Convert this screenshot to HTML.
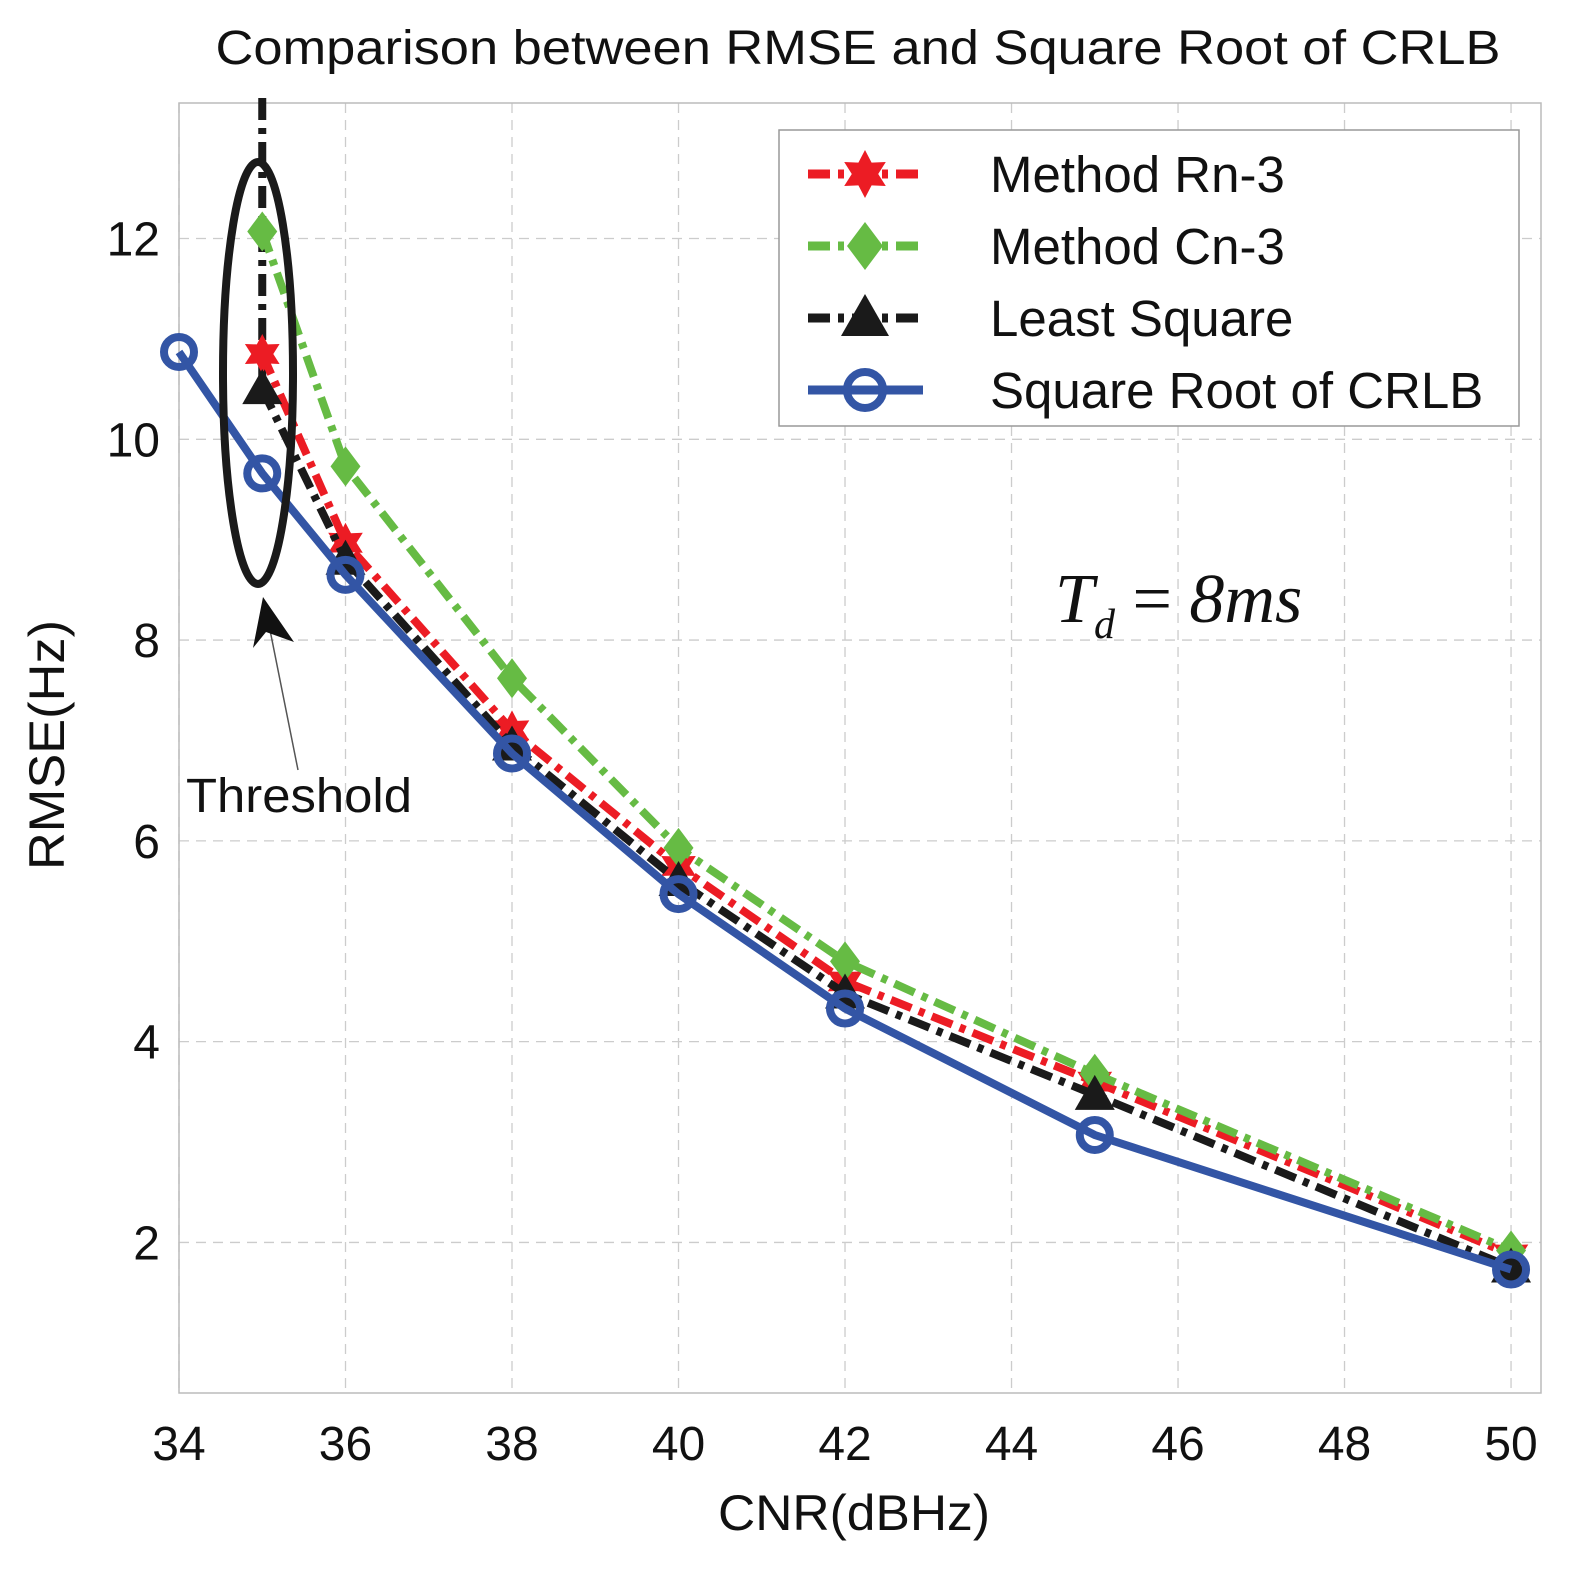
<!DOCTYPE html>
<html><head><meta charset="utf-8"><style>
body{margin:0;background:#fff}
svg{display:block;font-family:"Liberation Sans",sans-serif}
</style></head><body>
<svg id="chart" width="1596" height="1589" viewBox="0 0 1596 1589">
<rect width="1596" height="1589" fill="#fff"/>
<text x="858" y="64" font-size="48" text-anchor="middle" fill="#111" textLength="1285" lengthAdjust="spacingAndGlyphs">Comparison between RMSE and Square Root of CRLB</text>
<g id="grid"></g>
<rect x="179" y="103" width="1362" height="1290" fill="none" stroke="#bbb" stroke-width="1.5"/>
<g id="ticks"></g>
<g id="series"></g>
<ellipse cx="258" cy="373" rx="35" ry="211" fill="none" stroke="#1a1a1a" stroke-width="8"/>
<line x1="270" y1="630" x2="298" y2="770" stroke="#555" stroke-width="1.5"/>
<polygon points="263,597 253,648 266,632 294,642" fill="#111"/>
<text x="186" y="812" font-size="48" fill="#111" textLength="226" lengthAdjust="spacingAndGlyphs">Threshold</text>
<text x="1055" y="622" font-size="70" font-style="italic" font-family="Liberation Serif,serif" fill="#111">T<tspan font-size="42" dy="16">d</tspan><tspan dy="-16" font-style="normal"> = </tspan>8ms</text>
<text x="854" y="1530" font-size="50" text-anchor="middle" fill="#111" textLength="272" lengthAdjust="spacingAndGlyphs">CNR(dBHz)</text>
<text transform="translate(64,745) rotate(-90)" font-size="50" text-anchor="middle" fill="#111" textLength="250" lengthAdjust="spacingAndGlyphs">RMSE(Hz)</text>
<g id="legend">
<rect x="779" y="130" width="740" height="296" fill="#fff" stroke="#999" stroke-width="1.5"/>
</g>
</svg>
<script>
const xTicks=[34,36,38,40,42,44,46,48,50];
const yTicks=[2,4,6,8,10,12];
const xCRLB=[34,35,36,38,40,42,45,50];
const yCRLB=[10.87,9.66,8.65,6.87,5.47,4.33,3.07,1.73];
const xM=[35,36,38,40,42,45,50];
const yRn=[10.85,8.97,7.1,5.75,4.6,3.6,1.88];
const yCn=[12.07,9.73,7.62,5.93,4.8,3.68,1.92];
const yLS=[10.5,8.8,6.95,5.6,4.48,3.47,1.75];
const lsSpikeTop=13.4;
const names=["Method Rn-3","Method Cn-3","Least Square","Square Root of CRLB"];

const X0=179,X1=1541,Y0=1393,Y1=103,xmin=34,xmax=50.36,ymin=0.5,ymax=13.35;
const sx=v=>X0+(v-xmin)/(xmax-xmin)*(X1-X0);
const sy=v=>Y0-(v-ymin)/(ymax-ymin)*(Y0-Y1);
const NS="http://www.w3.org/2000/svg";
function mk(t,p,a){const e=document.createElementNS(NS,t);for(const k in a)e.setAttribute(k,a[k]);p.appendChild(e);return e;}
const grid=document.getElementById('grid'),ticks=document.getElementById('ticks'),ser=document.getElementById('series'),leg=document.getElementById('legend');
xTicks.forEach(v=>{
 const l=mk('line',grid,{x1:sx(v),x2:sx(v),y1:Y1,y2:Y0,stroke:'#ccc','stroke-dasharray':'10,7','stroke-width':1.3});
 
 
 const t=mk('text',ticks,{x:sx(v),y:1460,'font-size':48,'text-anchor':'middle',fill:'#111'});t.textContent=v;
 
 
});
yTicks.forEach(v=>{
 const l=mk('line',grid,{x1:X0,x2:X1,y1:sy(v),y2:sy(v),stroke:'#ccc','stroke-dasharray':'10,7','stroke-width':1.3});
 
 
 const t=mk('text',ticks,{x:160,y:sy(v)+17,'font-size':48,'text-anchor':'end',fill:'#111'});t.textContent=v;
 
 
});
function star(g,cx,cy,r,c){let p=[];for(let i=0;i<12;i++){const a=-Math.PI/2+i*Math.PI/6,rr=i%2?r*0.55:r;p.push((cx+rr*Math.cos(a)).toFixed(1)+','+(cy+rr*Math.sin(a)).toFixed(1));}return mk('polygon',g,{points:p.join(' '),fill:c});}
function diamond(g,cx,cy,r,c){return mk('polygon',g,{points:`${cx},${cy-r} ${cx+r*0.75},${cy} ${cx},${cy+r} ${cx-r*0.75},${cy}`,fill:c});}
function tri(g,cx,cy,r,c){return mk('polygon',g,{points:`${cx},${cy-r} ${cx+r},${cy+r*0.75} ${cx-r},${cy+r*0.75}`,fill:c});}
function circ(g,cx,cy,r,c){return mk('circle',g,{cx,cy,r:r*0.75,fill:'none',stroke:c,'stroke-width':8});}
const specs=[
 {xs:xM,ys:yRn,c:'#ec1c24',dash:'22,8,6,8',m:star,name:'series-rn3'},
 {xs:xM,ys:yCn,c:'#66bb44',dash:'22,8,6,8',m:diamond,name:'series-cn3'},
 {xs:xM,ys:yLS,c:'#1a1a1a',dash:'22,8,6,8',m:tri,name:'series-least-square'},
 {xs:xCRLB,ys:yCRLB,c:'#3355a5',dash:null,m:circ,name:'series-crlb'}];
const sp=mk('line',ser,{x1:sx(xM[0]),x2:sx(xM[0]),y1:sy(lsSpikeTop),y2:sy(yLS[0]),stroke:'#1a1a1a','stroke-width':8,'stroke-dasharray':'22,8,6,8'});


specs.forEach((s,si)=>{
 const g=mk('g',ser,{});
 
 
 const pts=s.xs.map((x,i)=>sx(x).toFixed(1)+','+sy(s.ys[i]).toFixed(1)).join(' ');
 const pl=mk('polyline',g,{points:pts,fill:'none',stroke:s.c,'stroke-width':8});
 if(s.dash)pl.setAttribute('stroke-dasharray',s.dash);
 
 
 s.xs.forEach((x,i)=>{const m=s.m(g,sx(x),sy(s.ys[i]),20,s.c);
  
  });
 const ly=174+si*72;
 const ll=mk('line',leg,{x1:808,x2:923,y1:ly,y2:ly,stroke:s.c,'stroke-width':9});
 if(s.dash)ll.setAttribute('stroke-dasharray',s.dash);
 
 
 const lm=s.m(leg,865,ly,24,s.c);
 
 
 const t=mk('text',leg,{x:990,y:ly+18,'font-size':51,fill:'#111'});t.textContent=names[si];
 
 
});
</script>
</body></html>
